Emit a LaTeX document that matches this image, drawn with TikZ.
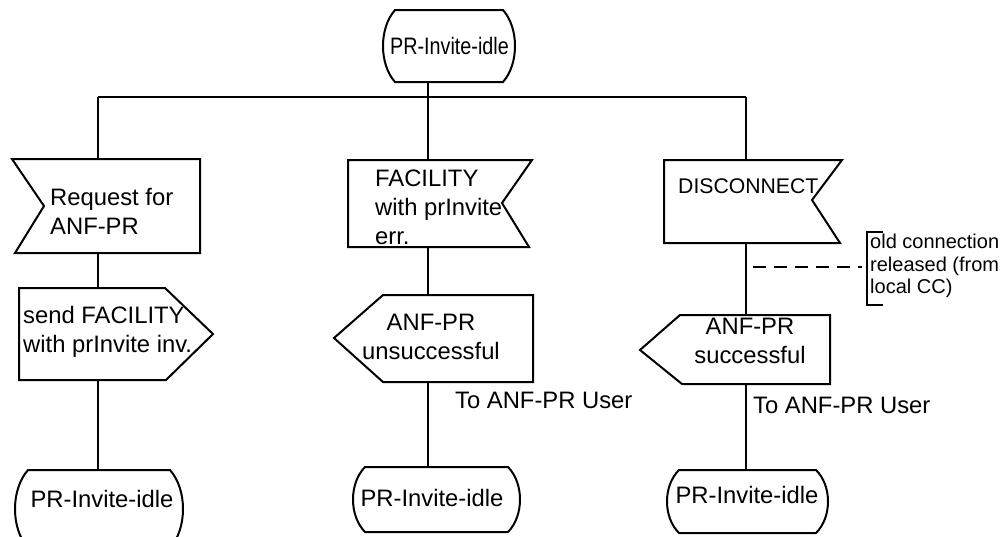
\documentclass[tikz,border=0pt]{standalone}
\usepackage{fontspec}
\setmainfont{Liberation Sans}
\tikzset{
  sym/.style={draw=black, line width=2pt, line join=miter, fill=white},
  conn/.style={draw=black, line width=2pt},
  txt/.style={font=\fontsize{23.8}{29}\selectfont, inner sep=0pt, align=left},
  ctxt/.style={font=\fontsize{23.8}{29}\selectfont, inner sep=0pt, align=center},
  smalltxt/.style={font=\fontsize{20}{22.5}\selectfont, inner sep=0pt, align=left},
}
% state symbol: left apex x, right apex x, top y, bottom y, inset
\newcommand{\sdlstate}[5]{%
  \draw[sym] ({#1+#5},#3) -- ({#2-#5},#3)
    .. controls ({#2+#5/3},{#3+0.25*(#4-#3)}) and ({#2+#5/3},{#4-0.25*(#4-#3)}) .. ({#2-#5},#4)
    -- ({#1+#5},#4)
    .. controls ({#1-#5/3},{#4-0.25*(#4-#3)}) and ({#1-#5/3},{#3+0.25*(#4-#3)}) .. cycle;}
\begin{document}
\begin{tikzpicture}[x=1pt,y=-1pt]
\useasboundingbox (0,0) rectangle (1001,536);
\clip (0,0) rectangle (1001,536);
\fill[white] (0,0) rectangle (1001,536);

% connection points
\coordinate (s0b) at (428,82);
\coordinate (jm) at (428,97);
\coordinate (jl) at (98,97);
\coordinate (jr) at (746,97);
\coordinate (i1t) at (98,159);  \coordinate (i1b) at (98,253);
\coordinate (o1t) at (98,288);  \coordinate (o1b) at (98,380);
\coordinate (s1t) at (98,470);
\coordinate (i2t) at (428,160); \coordinate (i2b) at (428,247);
\coordinate (o2t) at (428,295); \coordinate (o2b) at (428,382);
\coordinate (s2t) at (428,467);
\coordinate (i3t) at (746,160); \coordinate (i3b) at (746,243);
\coordinate (o3t) at (746,315); \coordinate (o3b) at (746,384);
\coordinate (s3t) at (746,470);
\coordinate (d1) at (753,267);
\coordinate (d2) at (862,267);

% connectors
\draw[conn] (s0b) -- (jm);
\draw[conn] (jl) -- (jr);
\draw[conn] (jl) -- (i1t);
\draw[conn] (jm) -- (i2t);
\draw[conn] (jr) -- (i3t);
\draw[conn] (i1b) -- (o1t);
\draw[conn] (o1b) -- (s1t);
\draw[conn] (i2b) -- (o2t);
\draw[conn] (o2b) -- (s2t);
\draw[conn] (i3b) -- (o3t);
\draw[conn] (o3b) -- (s3t);
\draw[conn, dash pattern=on 13pt off 8pt] (d1) -- (d2);

% top state
\sdlstate{383}{515}{10}{82}{12}
\node[ctxt, xscale=0.83] (s0) at (449.5,46) {PR-Invite-idle};

% inputs
\draw[sym] (12,159) -- (200,159) -- (200,253) -- (15,253) -- (44,206) -- cycle;
\node[txt, anchor=west] (in1) at (50,211) {Request for\\ANF-PR};

\draw[sym] (348,160) -- (532,160) -- (502,203) -- (529,247) -- (348,247) -- cycle;
\node[txt, anchor=west] (in2) at (375,207) {FACILITY\\with prInvite\\err.};

\draw[sym] (664,160) -- (842,160) -- (812,200) -- (840,243) -- (664,243) -- cycle;
\node[txt, anchor=west, font=\fontsize{21.2}{25}\selectfont] (in3) at (678,186) {DISCONNECT};

% outputs
\draw[sym] (19,288) -- (165,288) -- (213,334) -- (166,380) -- (19,380) -- cycle;
\node[txt, anchor=west] (out1) at (23,332) {send FACILITY\\with prInvite inv.};

\draw[sym] (383,295) -- (533,295) -- (533,382) -- (383,382) -- (334,338) -- cycle;
\node[ctxt] (out2) at (431,337) {ANF-PR\\unsuccessful};

\draw[sym] (680,315) -- (830,315) -- (830,384) -- (682,384) -- (640,350) -- cycle;
\node[ctxt] (out3) at (750,341) {ANF-PR\\successful};

\node[txt, anchor=west] (to2) at (455,400) {To ANF-PR User};
\node[txt, anchor=west] (to3) at (753,405) {To ANF-PR User};

% comment
\draw[conn, line width=2pt] (883,232) -- (867,232) -- (867,305) -- (883,305);
\node[smalltxt, anchor=west] (cm) at (870,266) {old connection\\released (from\\local CC)};

% bottom states
\sdlstate{15}{183}{470}{548}{13}
\node[ctxt] (s1) at (102,499) {PR-Invite-idle};
\sdlstate{353}{520}{467}{532}{12}
\node[ctxt] (s2) at (432,498) {PR-Invite-idle};
\sdlstate{667}{828}{470}{533}{12}
\node[ctxt] (s3) at (747,495) {PR-Invite-idle};
\end{tikzpicture}
\end{document}
